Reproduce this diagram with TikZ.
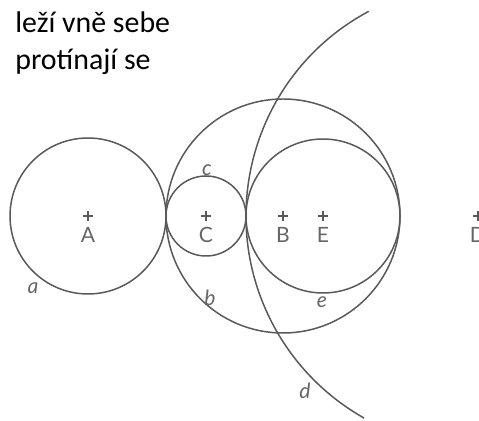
\documentclass[tikz,border=0pt]{standalone}
\usepackage{fontspec}
\setmainfont{Carlito}
\newfontfamily\labelfont{Lato}
\usetikzlibrary{positioning, calc}

\begin{document}
\begin{tikzpicture}[
    x=0.02cm, y=-0.02cm,
    circ/.style={draw=black!65, line width=0.85pt},
    ctr/.style={inner sep=0pt, minimum size=0.2cm,
        path picture={\draw[black!65, line width=0.8pt]
            (path picture bounding box.north) -- (path picture bounding box.south)
            (path picture bounding box.west) -- (path picture bounding box.east);}},
    lbl/.style={font=\labelfont\fontsize{12}{14}\selectfont, text=black!60, inner sep=1pt},
    circname/.style={font=\labelfont\itshape\fontsize{12}{14}\selectfont, text=black!60, inner sep=0pt},
    heading/.style={anchor=base west, inner sep=0pt, font=\fontsize{17}{20}\selectfont},
]

\useasboundingbox (0,0) rectangle (479,421);

% Heading
\node[heading] (LineOne) at (15,33) {leží vně sebe};
\node[heading] (LineTwo) at (15,70) {protínají se};

% Centres
\node[ctr] (A) at (88,216) {};
\node[ctr] (C) at (206,216) {};
\node[ctr] (B) at (283,216) {};
\node[ctr] (E) at (323,216) {};
\node[ctr] (D) at (478,216) {};

\node[lbl, below=0.08cm of A] (LabA) {A};
\node[lbl, below=0.08cm of C] (LabC) {C};
\node[lbl, below=0.08cm of B] (LabB) {B};
\node[lbl, below=0.08cm of E] (LabE) {E};
\node[lbl, below=0.08cm of D] (LabD) {D};

% Circles
\draw[circ] (A) circle[radius=78];
\draw[circ] (C) circle[radius=40];
\draw[circ] (B) circle[radius=117];
\draw[circ] (E) circle[radius=77];
\draw[circ] ($(D)+(241.9:232)$) arc[start angle=241.9, end angle=119.4, radius=232];

% Names of circles
\node[circname] (NameA) at (33,288) {a};
\node[circname] (NameB) at (210,298) {b};
\node[circname] (NameC) at (207,170) {c};
\node[circname] (NameD) at (305,391) {d};
\node[circname] (NameE) at (322,302) {e};

\end{tikzpicture}
\end{document}
